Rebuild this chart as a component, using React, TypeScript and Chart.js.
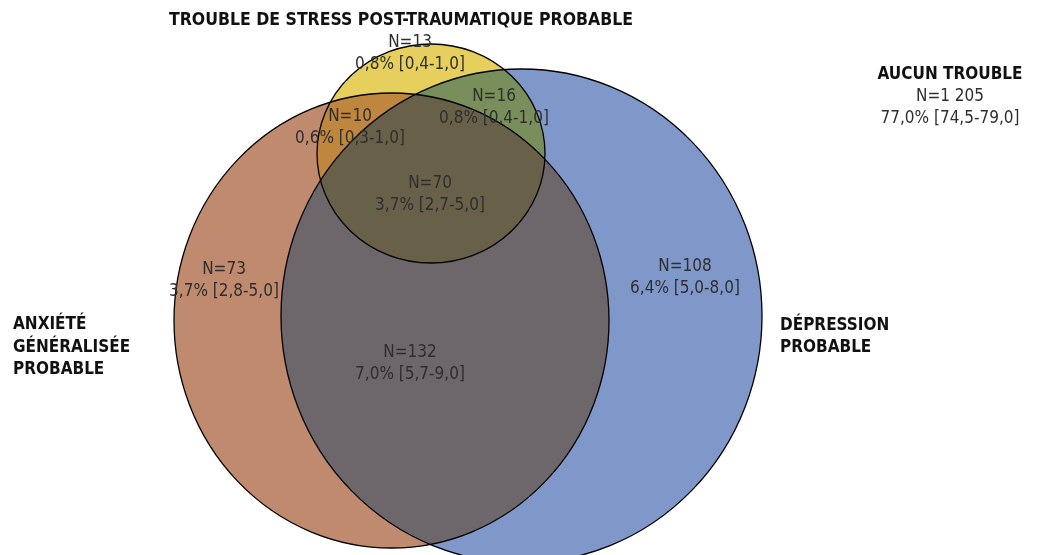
import React, { useEffect, useRef } from "react";
import { Chart, registerables } from "chart.js";

Chart.register(...registerables);

// Sets of the Venn diagram (anxiety, depression, PTSD)
const setNames = ["ANXIÉTÉ GÉNÉRALISÉE PROBABLE", "DÉPRESSION PROBABLE", "TROUBLE DE STRESS POST-TRAUMATIQUE PROBABLE"];
const setCenterX = [391.5, 521.5, 431];
const setCenterY = [320.5, 316, 153.5];
const setRadiusX = [217.5, 240.5, 114];
const setRadiusY = [227.5, 247, 109.5];
const setColors = ["#C08A6F", "#8098C9", "#E6CF5C"];

// Overlap colours
const overlapColors = {
  anxDep: "#6D676B",
  anxPtsd: "#BE873D",
  depPtsd: "#788F5C",
  all: "#686049",
};

// Region values
const regionCounts = ["N=13", "N=10", "N=16", "N=70", "N=73", "N=132", "N=108", "N=1 205"];
const regionPercents = [
  "0,8% [0,4-1,0]",
  "0,6% [0,3-1,0]",
  "0,8% [0,4-1,0]",
  "3,7% [2,7-5,0]",
  "3,7% [2,8-5,0]",
  "7,0% [5,7-9,0]",
  "6,4% [5,0-8,0]",
  "77,0% [74,5-79,0]",
];
const regionLabelX = [410, 350, 494, 430, 224, 410, 685, 950];
const regionLabelY = [43, 117, 97, 184, 270, 353, 267, 97];

const FAMILY = '"DejaVu Sans Condensed", "Liberation Sans Narrow", Roboto, sans-serif';
const REG_FONT = "17px " + FAMILY;
const BOLD_FONT = "bold 17px " + FAMILY;
const TITLE_FONT = "bold 17.5px " + FAMILY;

const vennPlugin = {
  id: "venn",
  afterDraw(chart: any) {
    const { ctx, scales } = chart;
    const xs = scales.x;
    const ys = scales.y;
    const px = (v: number) => xs.getPixelForValue(v);
    const py = (v: number) => ys.getPixelForValue(v);
    const path = (i: number) => {
      const cx = px(setCenterX[i]);
      const cy = py(setCenterY[i]);
      const rx = Math.abs(px(setCenterX[i] + setRadiusX[i]) - cx);
      const ry = Math.abs(py(setCenterY[i] + setRadiusY[i]) - cy);
      ctx.beginPath();
      ctx.ellipse(cx, cy, rx, ry, 0, 0, Math.PI * 2);
    };
    ctx.save();
    for (let i = 0; i < 3; i++) {
      path(i);
      ctx.fillStyle = setColors[i];
      ctx.fill();
    }
    const fillInter = (clips: number[], target: number, color: string) => {
      ctx.save();
      clips.forEach((c) => {
        path(c);
        ctx.clip();
      });
      path(target);
      ctx.fillStyle = color;
      ctx.fill();
      ctx.restore();
    };
    fillInter([0], 1, overlapColors.anxDep);
    fillInter([0], 2, overlapColors.anxPtsd);
    fillInter([1], 2, overlapColors.depPtsd);
    fillInter([0, 1], 2, overlapColors.all);
    ctx.strokeStyle = "#000";
    ctx.lineWidth = 1.3;
    for (let i = 0; i < 3; i++) {
      path(i);
      ctx.stroke();
    }
    ctx.textAlign = "center";
    ctx.textBaseline = "middle";
    ctx.font = REG_FONT;
    ctx.fillStyle = "#2E2E2E";
    for (let i = 0; i < regionCounts.length; i++) {
      ctx.fillText(regionCounts[i], px(regionLabelX[i]), py(regionLabelY[i]));
      ctx.fillText(regionPercents[i], px(regionLabelX[i]), py(regionLabelY[i] + 22));
    }
    ctx.fillStyle = "#111";
    ctx.font = TITLE_FONT;
    ctx.textAlign = "center";
    ctx.fillText(setNames[2], px(401), py(20));
    ctx.font = BOLD_FONT;
    ctx.fillText("AUCUN TROUBLE", px(950), py(75));
    ctx.textAlign = "left";
    ["ANXIÉTÉ", "GÉNÉRALISÉE", "PROBABLE"].forEach((t, k) => ctx.fillText(t, px(13), py(325 + k * 22.5)));
    ["DÉPRESSION", "PROBABLE"].forEach((t, k) => ctx.fillText(t, px(780), py(326 + k * 22)));
    ctx.restore();
  },
};

export default function App() {
  const ref = useRef<HTMLCanvasElement>(null);
  useEffect(() => {
    document.body.style.margin = "0";
    const chart = new Chart(ref.current as HTMLCanvasElement, {
      type: "scatter",
      data: { datasets: [] },
      options: {
        animation: false,
        responsive: false,
        maintainAspectRatio: false,
        layout: { padding: 0 },
        plugins: { legend: { display: false }, tooltip: { enabled: false } },
        scales: {
          x: { type: "linear", min: 0, max: 1038, display: false },
          y: { type: "linear", min: 0, max: 555, reverse: true, display: false },
        },
      },
      plugins: [vennPlugin],
    });
    return () => chart.destroy();
  }, []);
  return (
    <div style={{ position: "absolute", left: 0, top: 0, width: 1038, height: 555, background: "#fff" }}>
      <canvas ref={ref} width={1038} height={555} />
    </div>
  );
}
